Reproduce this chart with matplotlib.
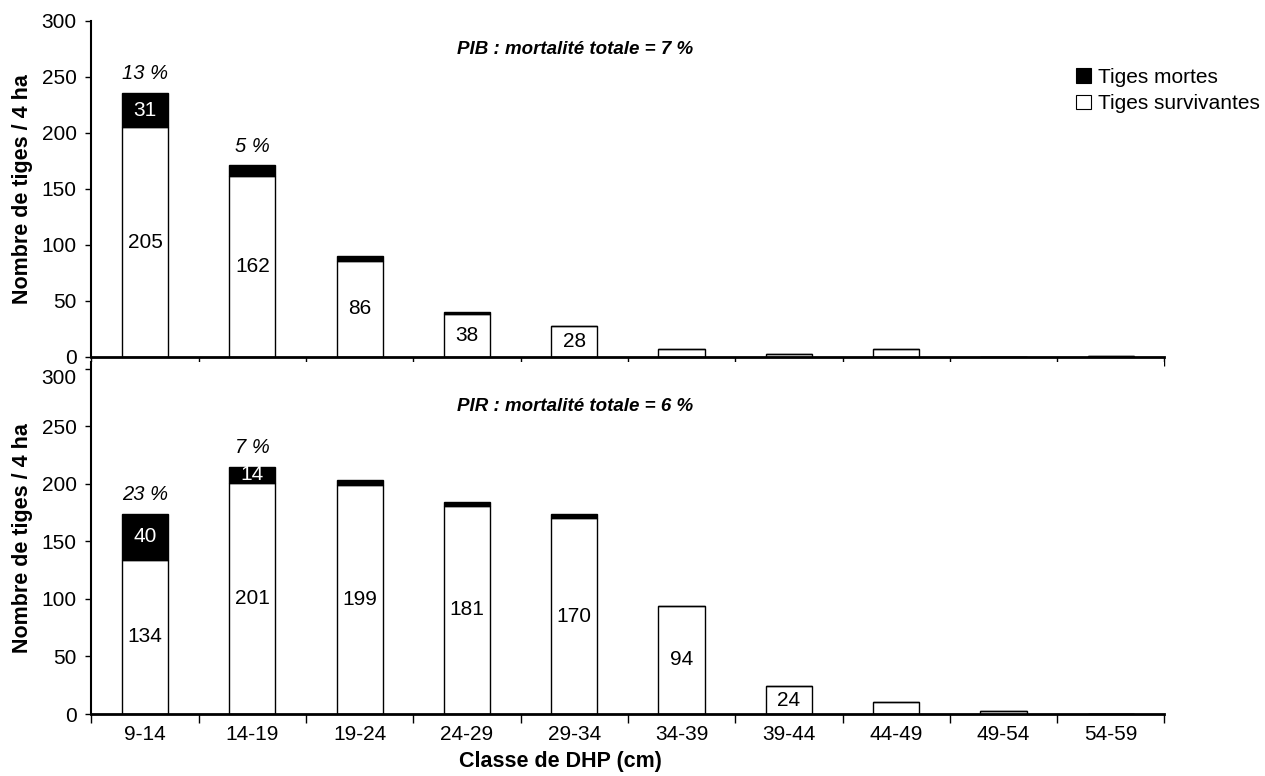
import matplotlib
matplotlib.use("Agg")
import matplotlib.pyplot as plt
from matplotlib.patches import Patch
from matplotlib.transforms import ScaledTranslation
import numpy as np

plt.rcParams['font.family'] = ['Liberation Sans', 'DejaVu Sans']

classes = ["9-14", "14-19", "19-24", "24-29", "29-34", "34-39", "39-44", "44-49", "49-54", "54-59"]

# PIB panel
pib_surv = [205, 162, 86, 38, 28, 7, 3, 7, 0, 1]
pib_dead = [31, 9, 4, 2, 0, 0, 0, 0, 0, 0]
pib_surv_labels = ["205", "162", "86", "38", "28", "", "", "", "", ""]
pib_dead_labels = ["31", "", "", "", "", "", "", "", "", ""]
pib_pct = ["13 %", "5 %", "", "", "", "", "", "", "", ""]
pib_title = "PIB : mortalité totale = 7 %"

# PIR panel
pir_surv = [134, 201, 199, 181, 170, 94, 24, 10, 3, 0]
pir_dead = [40, 14, 4, 3, 4, 0, 0, 0, 0, 0]
pir_surv_labels = ["134", "201", "199", "181", "170", "94", "24", "", "", ""]
pir_dead_labels = ["40", "14", "", "", "", "", "", "", "", ""]
pir_pct = ["23 %", "7 %", "", "", "", "", "", "", "", ""]
pir_title = "PIR : mortalité totale = 6 %"

yticks = [0, 50, 100, 150, 200, 250, 300]
ylabel = "Nombre de tiges / 4 ha"
xlabel = "Classe de DHP (cm)"
legend_labels = ["Tiges mortes", "Tiges survivantes"]

W, H = 1265, 776
fig = plt.figure(figsize=(W / 100, H / 100), dpi=100)

left = 91.4 / W
right = 1164.4 / W
ax1 = fig.add_axes([left, 1 - 357 / H, right - left, (357 - 21) / H])
ax2 = fig.add_axes([left, 1 - 714 / H, right - left, (714 - 362) / H])

FS = 15
x = np.arange(len(classes))
bw = 0.43


def draw(ax, surv, dead, surv_lab, dead_lab, pct, title, ytop, title_y, show_xlabels):
    b1 = ax.bar(x, surv, width=bw, color="white", edgecolor="black", linewidth=1.0, zorder=2)
    b2 = ax.bar(x, dead, width=bw, bottom=surv, color="black", edgecolor="black", linewidth=1.0, zorder=2)
    ax.bar_label(b1, labels=surv_lab, label_type="center", fontsize=FS, color="black")
    ax.bar_label(b2, labels=dead_lab, label_type="center", fontsize=FS, color="white")
    totals = [s + d for s, d in zip(surv, dead)]
    for xi, t, p in zip(x, totals, pct):
        if p:
            ax.annotate(p, (xi, t), xytext=(0, 14), textcoords="offset points",
                        ha="center", va="center", fontsize=14.5, style="italic")
    ax.text(0.4507, title_y, title, transform=ax.transAxes, ha="center", va="center",
            fontsize=13.5, fontweight="bold", style="italic")
    ax.set_xlim(-0.5, 9.5)
    ax.set_ylim(0, ytop)
    ax.set_yticks(yticks)
    ax.tick_params(axis="y", direction="out", length=4.5, width=1.0, labelsize=FS, pad=6)
    ax.set_xticks(x)
    ax.set_xticks(np.arange(-0.5, 10, 1.0), minor=True)
    ax.tick_params(axis="x", which="major", length=0, labelsize=FS, pad=8)
    ax.tick_params(axis="x", which="minor", direction="out", length=6.5, width=1.0)
    if show_xlabels:
        ax.set_xticklabels(classes)
    else:
        ax.set_xticklabels([])
    for s in ["top", "right"]:
        ax.spines[s].set_visible(False)
    ax.spines["left"].set_linewidth(1.5)
    ax.spines["bottom"].set_linewidth(2.0)
    ax.spines["bottom"].set_zorder(3)
    ax.set_ylabel(ylabel, fontsize=15.5, fontweight="bold", labelpad=6)


draw(ax1, pib_surv, pib_dead, pib_surv_labels, pib_dead_labels, pib_pct, pib_title, 300,
     (357 - 50) / (357 - 21), False)
draw(ax2, pir_surv, pir_dead, pir_surv_labels, pir_dead_labels, pir_pct, pir_title, 306,
     (714 - 407) / (714 - 362), True)
ax2.set_xlabel(xlabel, fontsize=15.5, fontweight="bold")
ax2.xaxis.set_label_coords(0.437, -0.105)

# nudge the top tick label of the lower panel down, as in the reference
lab300 = ax2.get_yticklabels()[-1]
lab300.set_transform(lab300.get_transform() + ScaledTranslation(0, -0.08, fig.dpi_scale_trans))

handles = [Patch(facecolor="black", edgecolor="black", linewidth=0.8),
           Patch(facecolor="white", edgecolor="black", linewidth=0.8)]
fig.legend(handles, legend_labels, loc="upper left", bbox_to_anchor=(1076 / W, 1 - 68 / H),
           frameon=False, fontsize=15, handlelength=0.72, handleheight=0.72,
           handletextpad=0.35, labelspacing=0.35, borderpad=0, borderaxespad=0)

fig.savefig("out.png", dpi=100)
